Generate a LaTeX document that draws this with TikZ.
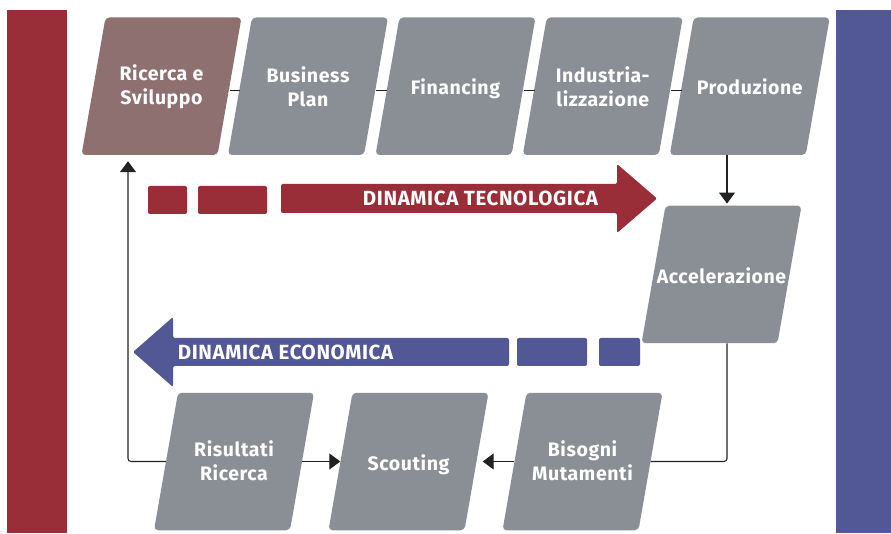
\documentclass[tikz,border=0pt]{standalone}
\usepackage{fontspec}
\setmainfont{Fira Sans}[LetterSpace=3]
\usetikzlibrary{arrows.meta}
\definecolor{cred}{HTML}{992E38}
\definecolor{cblue}{HTML}{525796}
\definecolor{cgray}{HTML}{8A8F96}
\definecolor{cmauve}{HTML}{8F7070}
\definecolor{cline}{HTML}{222222}
\tikzset{
  pbox/.style={draw=none, fill=cgray, minimum width=136pt, minimum height=137.5pt,
    inner sep=0pt, rounded corners=4pt, transform shape},
  lbl/.style={text=white, font=\bfseries\fontsize{19.5}{24}\selectfont, align=center, inner sep=0pt},
  albl/.style={text=white, font=\bfseries\fontsize{20.5}{22}\selectfont, inner sep=0pt},
  conn/.style={draw=cline, line width=1.1pt},
  tip/.style={-{Triangle[length=11pt,width=16pt]}},
}
\newcommand{\pbox}[4]{% name, x, y, style
  \begin{scope}[shift={(#2,#3)}, xslant=0.1745]
    \node[pbox,#4] (#1) at (0,0) {};
  \end{scope}}
\begin{document}
\begin{tikzpicture}[x=1pt,y=1pt]
\useasboundingbox (0,0) rectangle (891,533);
\fill[white] (0,0) rectangle (891,533);
% side bars
\fill[cred] (7,0) rectangle (67,523);
\fill[cblue] (836,0) rectangle (891,523);
% boxes
\pbox{b1}{161.5}{446.75}{fill=cmauve}
\pbox{b2}{308}{446.75}{}
\pbox{b3}{455.5}{446.75}{}
\pbox{b4}{602.75}{446.75}{}
\pbox{b5}{749.75}{446.75}{}
\pbox{b6}{721.5}{258.5}{}
\pbox{b7}{234}{71.5}{}
\pbox{b8}{408.5}{71.5}{}
\pbox{b9}{582.5}{71.5}{}
\node[lbl] (t1) at ([yshift=-1pt]b1.center) {Ricerca e\\Sviluppo};
\node[lbl] (t2) at ([yshift=-1pt]b2.center) {Business\\Plan};
\node[lbl] (t3) at ([yshift=-3pt]b3.center) {Financing};
\node[lbl] (t4) at ([yshift=-1pt]b4.center) {Industria-\\lizzazione};
\node[lbl] (t5) at ([yshift=-1pt]b5.center) {Produzione};
\node[lbl] (t6) at ([yshift=-1pt]b6.center) {Accelerazione};
\node[lbl] (t7) at ([yshift=1pt]b7.center) {Risultati\\Ricerca};
\node[lbl] (t8) at ([yshift=-3pt]b8.center) {Scouting};
\node[lbl] (t9) at ([yshift=1pt]b9.center) {Bisogni\\Mutamenti};
% connectors top row
\draw[conn] ([yshift=-4pt]b1.east) -- ([yshift=-4pt]b2.west);
\draw[conn] ([yshift=-4pt]b2.east) -- ([yshift=-4pt]b3.west);
\draw[conn] ([yshift=-4pt]b3.east) -- ([yshift=-4pt]b4.west);
\draw[conn] ([yshift=-4pt]b4.east) -- ([yshift=-4pt]b5.west);
% loop
\coordinate (vx) at (727,0);
\coordinate (lx) at (128,0);
\draw[conn, tip, shorten >=2pt] (b5.south -| vx) -- (b6.north -| vx);
\draw[conn, rounded corners=3pt] (b6.south -| vx) |- (b9.east);
\draw[conn, tip, shorten >=6pt] (b9.west) -- (b8.east);
\draw[conn, tip] (b7.east) -- (b8.west);
\draw[conn, tip, rounded corners=3pt, shorten >=6pt] (b7.west) -| (lx |- b1.south);
% red dynamic arrow
\fill[cred, rounded corners=2pt] (148,319) rectangle (187,347);
\fill[cred, rounded corners=2pt] (198,319) rectangle (267,347);
\fill[cred, rounded corners=2pt] (281,320) -- (281,349) -- (617,349) -- (617,369)
  -- (657,334.5) -- (617,300) -- (617,320) -- cycle;
\node[albl] (dt) at (480.5,334.5) {DINAMICA TECNOLOGICA};
% blue dynamic arrow
\fill[cblue, rounded corners=2pt] (517,167) rectangle (587,195);
\fill[cblue, rounded corners=2pt] (599,167) rectangle (640,195);
\fill[cblue, rounded corners=2pt] (509,167) -- (509,195) -- (173,195) -- (173,216)
  -- (133,181) -- (173,146) -- (173,167) -- cycle;
\node[albl] (de) at (285.5,181) {DINAMICA ECONOMICA};
\end{tikzpicture}
\end{document}
